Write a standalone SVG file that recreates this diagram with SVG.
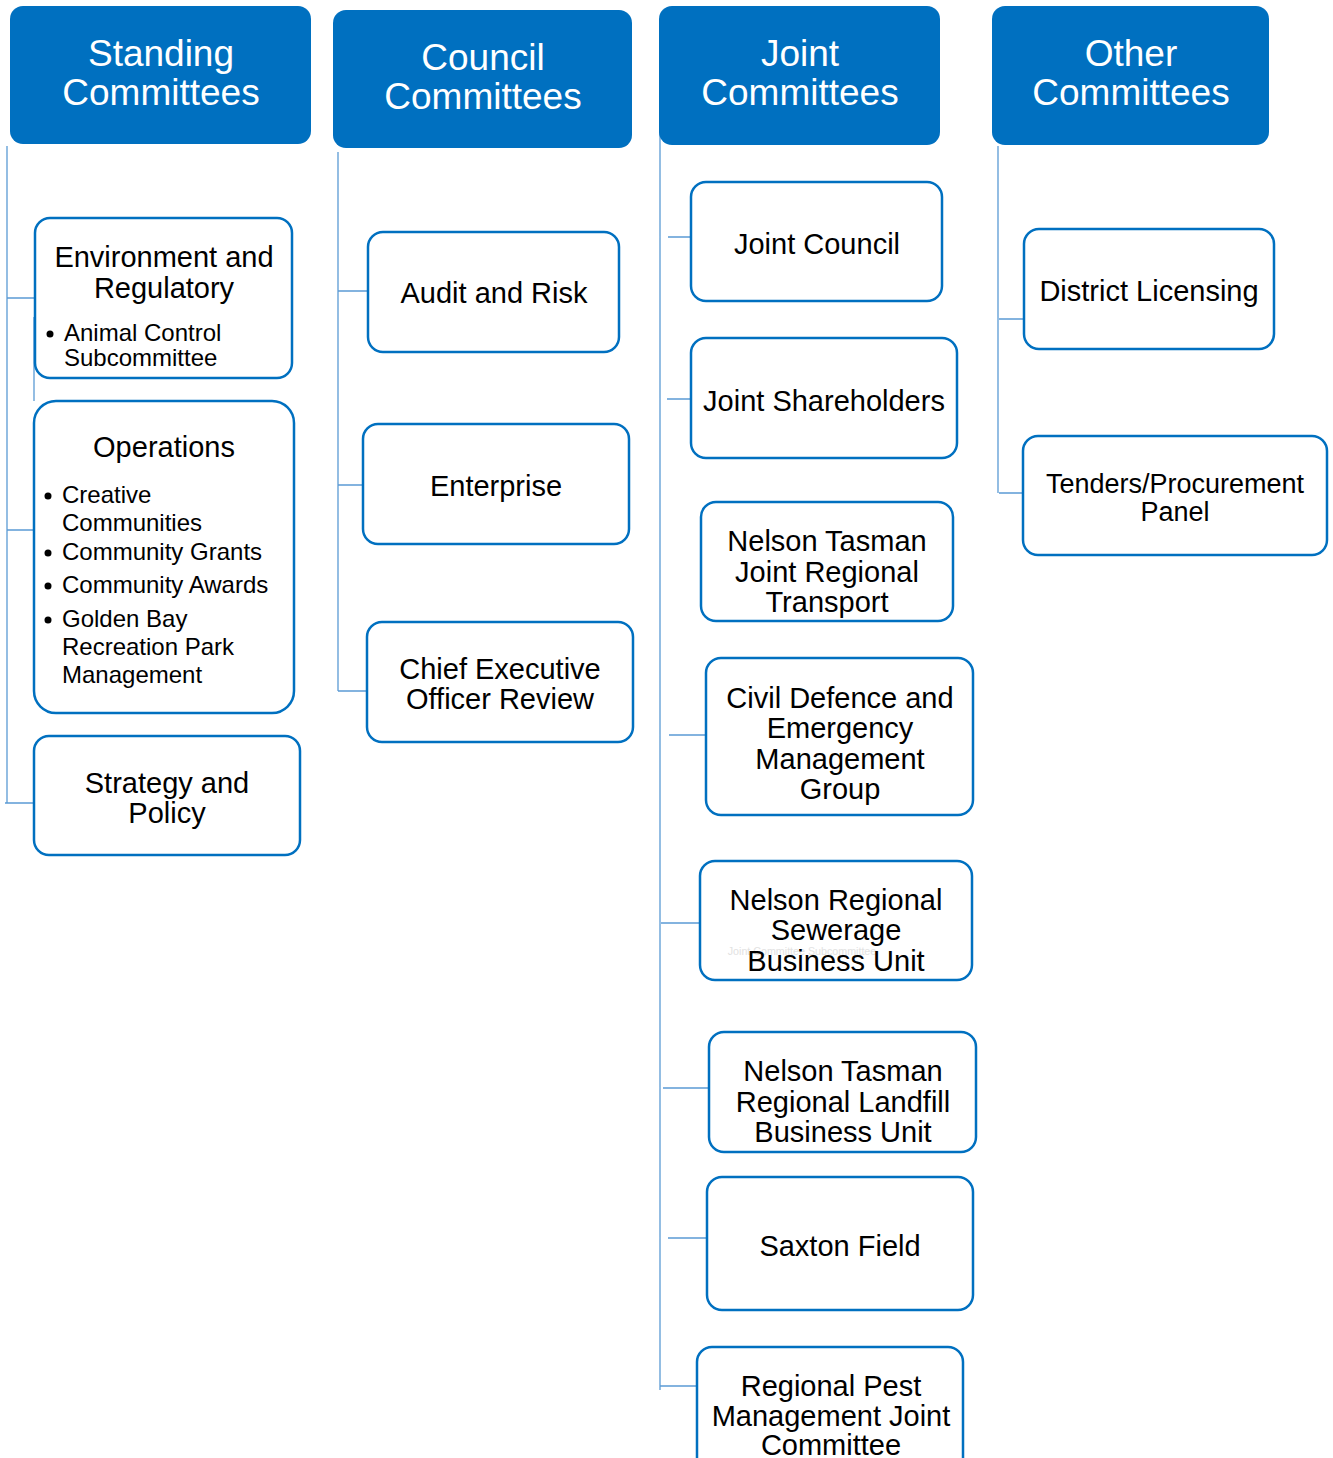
<svg xmlns="http://www.w3.org/2000/svg" width="1333" height="1458" viewBox="0 0 1333 1458">
<style>
.hdr{fill:#0070C0;}
.ht{fill:#fff;font-family:"Liberation Sans",Arial,sans-serif;font-size:37px;text-anchor:middle;}
.box{fill:#fff;stroke:#0070C0;stroke-width:2.5;}
.t{fill:#000;font-family:"Liberation Sans",Arial,sans-serif;font-size:29px;text-anchor:middle;}
.t26{fill:#000;font-family:"Liberation Sans",Arial,sans-serif;font-size:27px;text-anchor:middle;}
.b{fill:#000;font-family:"Liberation Sans",Arial,sans-serif;font-size:24px;}
.c{stroke:#5B9BD5;stroke-width:1.3;fill:none;}
</style>
<rect width="1333" height="1458" fill="#fff"/>
<g id="connectors">
<path class="c" d="M7,146 V803 M7,298 H35 M7,530 H34 M5,803 H34 M34,317 V401"/>
<path class="c" d="M338,152 V691 M338,291 H368 M338,485 H363 M338,691 H366"/>
<path class="c" d="M660,75 V1390 M668,237 H691 M667,399 H691 M669,735 H706 M661,923 H700 M663,1088 H709 M668,1238 H707 M660,1386 H697"/>
<path class="c" d="M998,146 V493 M999,319 H1023 M999,493 H1023"/>
</g>
<g id="standing-committees"><rect class="hdr" x="10" y="6" width="301" height="138" rx="13"/><text class="ht" x="161" y="66">Standing</text><text class="ht" x="161" y="105">Committees</text></g>
<g id="council-committees"><rect class="hdr" x="333" y="10" width="299" height="138" rx="13"/><text class="ht" x="483" y="70">Council</text><text class="ht" x="483" y="109">Committees</text></g>
<g id="joint-committees"><rect class="hdr" x="659" y="6" width="281" height="139" rx="13"/><text class="ht" x="800" y="66">Joint</text><text class="ht" x="800" y="105">Committees</text></g>
<g id="other-committees"><rect class="hdr" x="992" y="6" width="277" height="139" rx="13"/><text class="ht" x="1131" y="66">Other</text><text class="ht" x="1131" y="105">Committees</text></g>

<g id="environment-regulatory"><rect class="box" x="35" y="218" width="257" height="160" rx="15"/><text class="t" x="164" y="267">Environment and</text><text class="t" x="164" y="298">Regulatory</text><circle cx="50" cy="334" r="3.5"/><text class="b" x="64" y="341">Animal Control</text><text class="b" x="64" y="366">Subcommittee</text></g>
<g id="operations"><rect class="box" x="34" y="401" width="260" height="312" rx="22"/><text class="t" x="164" y="457">Operations</text>
<circle cx="48" cy="496" r="3.5"/><text class="b" x="62" y="503">Creative</text><text class="b" x="62" y="531">Communities</text>
<circle cx="48" cy="553" r="3.5"/><text class="b" x="62" y="560">Community Grants</text>
<circle cx="48" cy="586" r="3.5"/><text class="b" x="62" y="593">Community Awards</text>
<circle cx="48" cy="620" r="3.5"/><text class="b" x="62" y="627">Golden Bay</text><text class="b" x="62" y="655">Recreation Park</text><text class="b" x="62" y="683">Management</text></g>
<g id="strategy-policy"><rect class="box" x="34" y="736" width="266" height="119" rx="15"/><text class="t" x="167" y="793">Strategy and</text><text class="t" x="167" y="823">Policy</text></g>

<g id="audit-risk"><rect class="box" x="368" y="232" width="251" height="120" rx="15"/><text class="t" x="494" y="303">Audit and Risk</text></g>
<g id="enterprise"><rect class="box" x="363" y="424" width="266" height="120" rx="15"/><text class="t" x="496" y="496">Enterprise</text></g>
<g id="ceo-review"><rect class="box" x="367" y="622" width="266" height="120" rx="15"/><text class="t" x="500" y="679">Chief Executive</text><text class="t" x="500" y="709">Officer Review</text></g>

<g id="joint-council"><rect class="box" x="691" y="182" width="251" height="119" rx="15"/><text class="t" x="817" y="254">Joint Council</text></g>
<g id="joint-shareholders"><rect class="box" x="691" y="338" width="266" height="120" rx="15"/><text class="t" x="824" y="411">Joint Shareholders</text></g>
<g id="nt-transport"><rect class="box" x="701" y="502" width="252" height="119" rx="15"/><text class="t" x="827" y="551">Nelson Tasman</text><text class="t" x="827" y="582">Joint Regional</text><text class="t" x="827" y="612">Transport</text></g>
<g id="civil-defence"><rect class="box" x="706" y="658" width="267" height="157" rx="15"/><text class="t" x="840" y="708">Civil Defence and</text><text class="t" x="840" y="738">Emergency</text><text class="t" x="840" y="769">Management</text><text class="t" x="840" y="799">Group</text></g>
<g id="sewerage"><rect class="box" x="700" y="861" width="272" height="119" rx="15"/><text x="802" y="955" font-family="Liberation Sans,Arial,sans-serif" font-size="10.7" fill="#e2e2e2" text-anchor="middle">Joint Committee Subcommittee</text><text class="t" x="836" y="910">Nelson Regional</text><text class="t" x="836" y="940">Sewerage</text><text class="t" x="836" y="971">Business Unit</text></g>
<g id="landfill"><rect class="box" x="709" y="1032" width="267" height="120" rx="15"/><text class="t" x="843" y="1081">Nelson Tasman</text><text class="t" x="843" y="1112">Regional Landfill</text><text class="t" x="843" y="1142">Business Unit</text></g>
<g id="saxton-field"><rect class="box" x="707" y="1177" width="266" height="133" rx="15"/><text class="t" x="840" y="1256">Saxton Field</text></g>
<g id="pest-management"><rect class="box" x="697" y="1347" width="266" height="140" rx="15"/><text class="t" x="831" y="1396">Regional Pest</text><text class="t" x="831" y="1426">Management Joint</text><text class="t" x="831" y="1455">Committee</text></g>

<g id="district-licensing"><rect class="box" x="1024" y="229" width="250" height="120" rx="15"/><text class="t" x="1149" y="301">District Licensing</text></g>
<g id="tenders-procurement"><rect class="box" x="1023" y="436" width="304" height="119" rx="15"/><text class="t26" x="1175" y="493">Tenders/Procurement</text><text class="t26" x="1175" y="521">Panel</text></g>
</svg>
